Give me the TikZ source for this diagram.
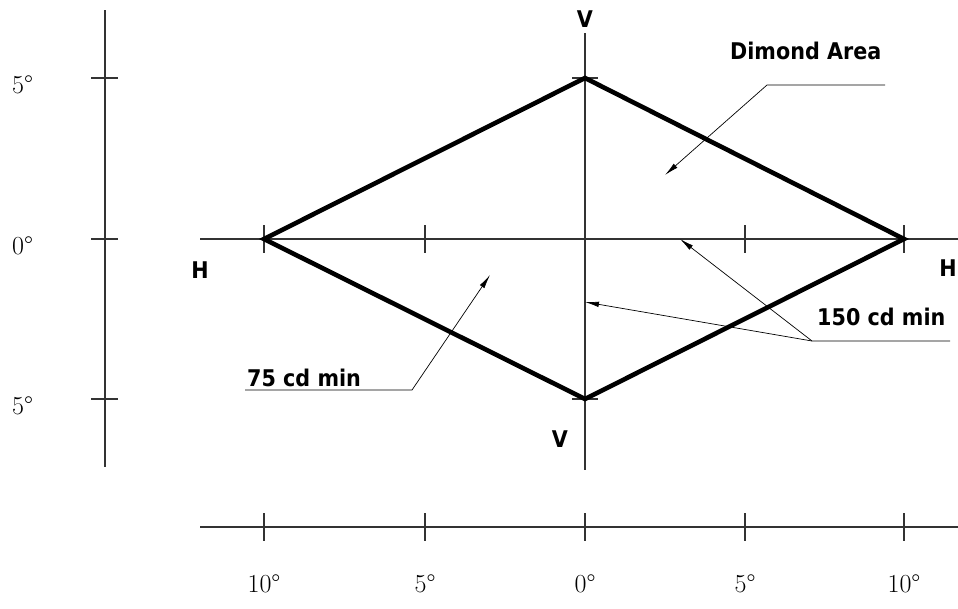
\documentclass[tikz,border=0pt]{standalone}
\usepackage{fontspec}
\newfontfamily\labelfont[FakeStretch=0.9]{DejaVu Sans}
\usetikzlibrary{arrows.meta}
\tikzset{
  axisline/.style={line width=1.2pt, black!80},
  tickmark/.style={line width=1.2pt, black!80},
  rimline/.style={line width=4.6pt, line join=miter},
  leader/.style={line width=0.7pt},
  leaderarrow/.style={leader, -{Latex[length=14pt,width=5.5pt]}},
  lbl/.style={font=\labelfont\bfseries\fontsize{23}{26}\selectfont, inner sep=0pt, anchor=base west},
  deg/.style={font=\fontsize{26}{30}\selectfont, inner sep=0pt, anchor=base},
}

\begin{document}
\begin{tikzpicture}[x=1pt,y=-1pt]
  \useasboundingbox (0,0) rectangle (958,608);
  % corners of the diamond
  \coordinate (L) at (264,239);
  \coordinate (T) at (585,78);
  \coordinate (R) at (904,239);
  \coordinate (B) at (585,399);
  % H and V axes
  \draw[axisline] (200,239) -- (958,239);
  \draw[axisline] (585,33) -- (585,470);
  \foreach \x in {264,425,745,904}
    \draw[tickmark] (\x,225) -- (\x,253);
  \draw[tickmark] (572,78) -- (598,78);
  \draw[tickmark] (572,399) -- (598,399);
  % vertical scale
  \draw[axisline] (105,10) -- (105,467);
  \foreach \y/\t in {78/5,239/0,399/5} {
    \draw[tickmark] (91,\y) -- (118,\y);
    \node[deg, anchor=base west] (l\y) at (12,\y+15) {\t°};
  }
  % horizontal scale
  \draw[axisline] (200,527) -- (958,527);
  \foreach \x/\t in {264/10,425/5,585/0,745/5,904/10} {
    \draw[tickmark] (\x,513) -- (\x,541);
    \node[deg] (b\x) at (\x,592) {\t°};
  }
  % diamond
  \draw[rimline] (L) -- (T) -- (R) -- (B) -- cycle;
  % axis letters
  \node[lbl, anchor=base] (vtop) at (585,27) {V};
  \node[lbl, anchor=base] (vbot) at (560,447) {V};
  \node[lbl, anchor=base] (hleft) at (200,278) {H};
  \node[lbl, anchor=base] (hright) at (948,276) {H};
  % callouts
  \node[lbl] (area) at (730,59) {Dimond Area};
  \node[lbl] (min75) at (247,386) {75 cd min};
  \node[lbl] (min150) at (817,325) {150 cd min};
  \coordinate (areaA) at (885,85);
  \coordinate (areaB) at (767,85);
  \coordinate (areaTip) at (665,175);
  \coordinate (m75A) at (245,390);
  \coordinate (m75B) at (412,390);
  \coordinate (m75Tip) at (490,275);
  \coordinate (m150A) at (950,341);
  \coordinate (m150B) at (812,341);
  \coordinate (m150TipV) at (585,302);
  \coordinate (m150TipH) at (680,239);
  \draw[leaderarrow] (areaA) -- (areaB) -- (areaTip);
  \draw[leaderarrow] (m75A) -- (m75B) -- (m75Tip);
  \draw[leaderarrow] (m150A) -- (m150B) -- (m150TipV);
  \draw[leaderarrow] (m150B) -- (m150TipH);
\end{tikzpicture}
\end{document}
